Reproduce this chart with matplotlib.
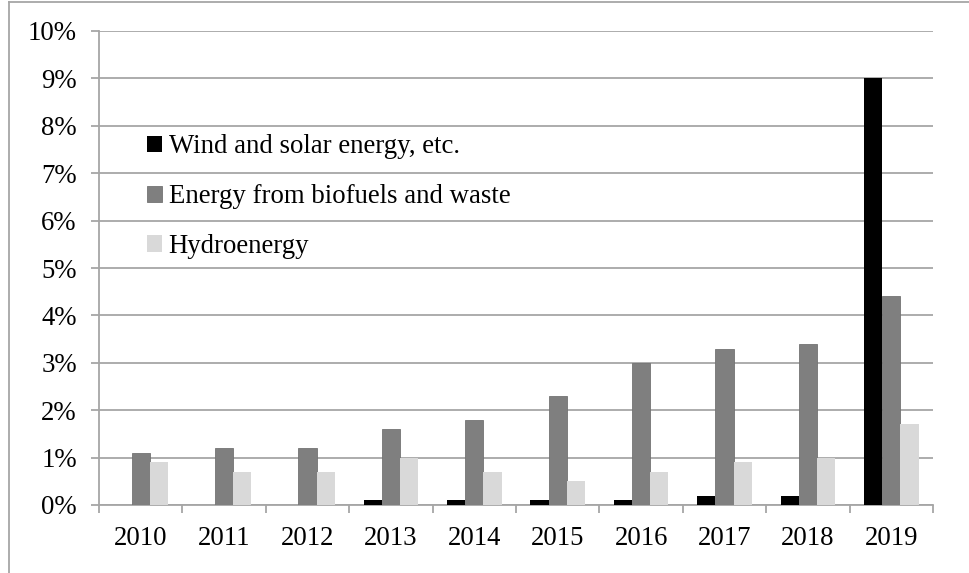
import matplotlib
matplotlib.use('Agg')
import matplotlib.pyplot as plt
from matplotlib.lines import Line2D
from matplotlib.ticker import FixedLocator, PercentFormatter
import numpy as np

years = ['2010', '2011', '2012', '2013', '2014', '2015', '2016', '2017', '2018', '2019']
wind_solar = [0.0, 0.0, 0.0, 0.1, 0.1, 0.1, 0.1, 0.2, 0.2, 9.0]
biofuels = [1.1, 1.2, 1.2, 1.6, 1.8, 2.3, 3.0, 3.3, 3.4, 4.4]
hydro = [0.9, 0.7, 0.7, 1.0, 0.7, 0.5, 0.7, 0.9, 1.0, 1.7]
series_names = ['Wind and solar energy, etc.', 'Energy from biofuels and waste', 'Hydroenergy']

plt.rcParams['font.family'] = ['Liberation Serif', 'DejaVu Serif']
fs = 19.3
grey = '#a6a6a6'

fig = plt.figure(figsize=(9.69, 5.73), dpi=100)
ax = fig.add_axes([99 / 969, 68 / 573, 834 / 969, 474 / 573])

x = np.arange(len(years))
w = 0.218
ax.bar(x - w, wind_solar, w, color='#000000', label=series_names[0], zorder=3)
ax.bar(x, biofuels, w, color='#7f7f7f', edgecolor='#737373', linewidth=0.6,
       label=series_names[1], zorder=3)
ax.bar(x + w, hydro, w, color='#d9d9d9', label=series_names[2], zorder=3)

ax.set_xlim(-0.5, len(years) - 0.5)
ax.set_ylim(0, 10)
ax.set_yticks(np.arange(0, 11, 1))
ax.yaxis.set_major_formatter(PercentFormatter(decimals=0))
ax.set_xticks(x)
ax.set_xticklabels(years)
ax.xaxis.set_minor_locator(FixedLocator(np.arange(-0.5, len(years), 1)))

ax.grid(axis='y', color=grey, linewidth=1.3, zorder=0)
ax.set_axisbelow(True)
for s in ['top', 'right']:
    ax.spines[s].set_visible(False)
for s in ['left', 'bottom']:
    ax.spines[s].set_color(grey)
    ax.spines[s].set_linewidth(1.3)

ax.tick_params(axis='y', length=6, width=1.3, color=grey, pad=10, labelsize=fs)
ax.tick_params(axis='x', which='major', length=0, pad=15, labelsize=fs)
ax.tick_params(axis='x', which='minor', length=6, width=1.3, color=grey)

ax.legend(loc='upper left', bbox_to_anchor=(0.045, 0.805), frameon=False,
          fontsize=fs, handlelength=0.55, handleheight=0.55,
          handletextpad=0.25, labelspacing=0.93, borderaxespad=0)

# outer frame of the picture
fig.add_artist(Line2D([9 / 969, 1], [1 - 2 / 573, 1 - 2 / 573], color=grey, linewidth=1.3,
                      transform=fig.transFigure))
fig.add_artist(Line2D([9 / 969, 9 / 969], [0, 1 - 2 / 573], color=grey, linewidth=1.3,
                      transform=fig.transFigure))

fig.savefig('out.png', dpi=100)
